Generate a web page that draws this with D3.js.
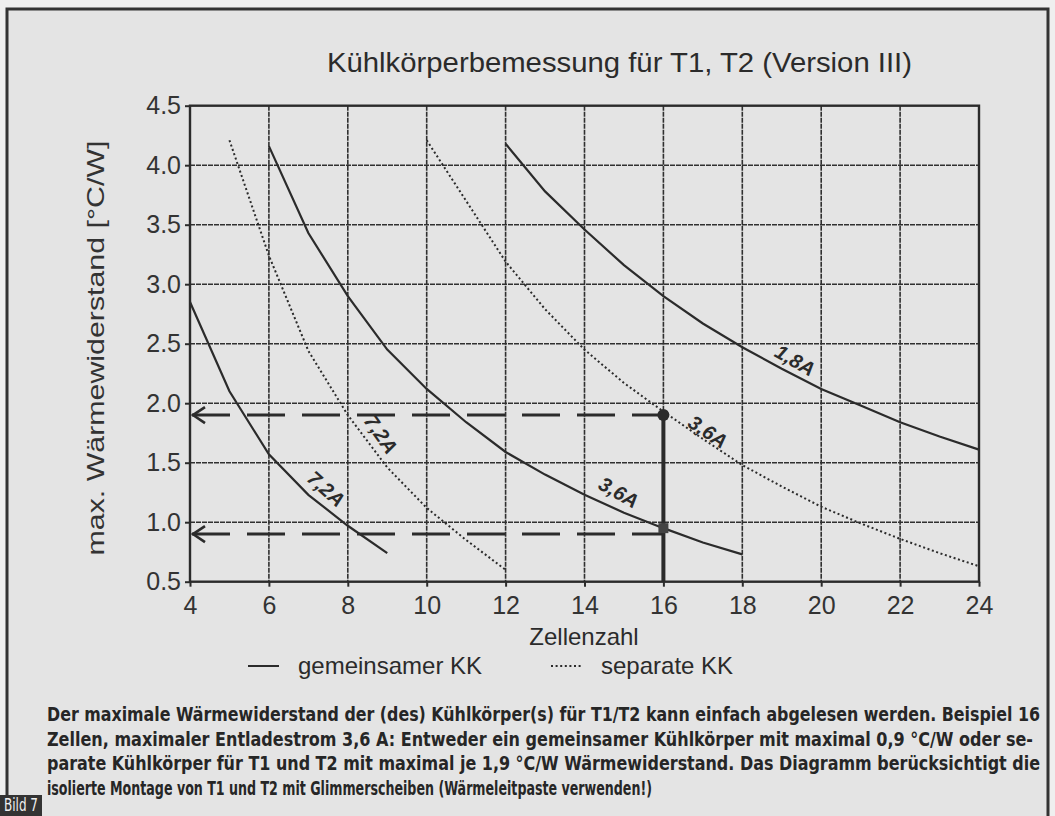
<!DOCTYPE html>
<html>
<head>
<meta charset="utf-8">
<script src="https://cdn.jsdelivr.net/npm/d3@7"></script>
<style>
  html, body { margin: 0; padding: 0; background: #ececec; }
  svg { display: block; }
</style>
</head>
<body>
<svg id="chart" width="1055" height="816"></svg>
<script>
// Zellenzahl (x) and max. Wärmewiderstand in °C/W (y) for each curve
const gemeinsam72X = [4, 5, 6, 7, 8, 9];
const gemeinsam72R = [2.85, 2.10, 1.57, 1.23, 0.97, 0.74];

const separat72X = [5, 6, 7, 8, 9, 10, 11, 12];
const separat72R = [4.21, 3.24, 2.44, 1.90, 1.46, 1.12, 0.85, 0.60];

const gemeinsam36X = [6, 7, 8, 9, 10, 11, 12, 13, 14, 15, 16, 17, 18];
const gemeinsam36R = [4.16, 3.43, 2.90, 2.45, 2.12, 1.84, 1.59, 1.40, 1.23, 1.08, 0.95, 0.83, 0.73];

const separat36X = [10, 11, 12, 13, 14, 15, 16, 17, 18, 19, 20, 21, 22, 23, 24];
const separat36R = [4.21, 3.70, 3.19, 2.79, 2.45, 2.17, 1.93, 1.70, 1.48, 1.30, 1.13, 0.99, 0.86, 0.74, 0.63];

const gemeinsam18X = [12, 13, 14, 15, 16, 17, 18, 19, 20, 21, 22, 23, 24];
const gemeinsam18R = [4.18, 3.78, 3.46, 3.16, 2.90, 2.67, 2.47, 2.29, 2.12, 1.98, 1.84, 1.72, 1.61];

// Curve labels: text, anchor point (x, R) and rotation along the curve
const curveLabels = ["7,2A", "7,2A", "3,6A", "3,6A", "1,8A"];
const curveLabelX = [7.45, 8.84, 14.87, 17.13, 19.34];
const curveLabelR = [1.28, 1.74, 1.25, 1.76, 2.36];
const curveLabelAngle = [42, 55, 30, 34, 30];

// Worked example: 16 cells at 3.6 A
const exampleCells = 16;
const exampleLevels = [1.9, 0.9];      // separate KK, gemeinsamer KK
const exampleMarkR = [1.9, 0.95];      // where the vertical meets the curves

const xTicks = [4, 6, 8, 10, 12, 14, 16, 18, 20, 22, 24];
const yTicks = [0.5, 1.0, 1.5, 2.0, 2.5, 3.0, 3.5, 4.0, 4.5];

const titleText = "Kühlkörperbemessung für T1, T2 (Version III)";
const xLabel = "Zellenzahl";
const yLabel = "max. Wärmewiderstand [°C/W]";
const legendNames = ["gemeinsamer KK", "separate KK"];
const captionLines = [
  "Der maximale Wärmewiderstand der (des) Kühlkörper(s) für T1/T2 kann einfach abgelesen werden. Beispiel 16",
  "Zellen, maximaler Entladestrom 3,6 A: Entweder ein gemeinsamer Kühlkörper mit maximal 0,9 °C/W oder se-",
  "parate Kühlkörper für T1 und T2 mit maximal je 1,9 °C/W Wärmewiderstand. Das Diagramm berücksichtigt die",
  "isolierte Montage von T1 und T2 mit Glimmerscheiben (Wärmeleitpaste verwenden!)"
];
const captionWidths = [993, 986, 993, 605];
const figureTag = "Bild 7";

const ink = "#2b2b2b";
const chartFont = "'Liberation Sans', Arial, sans-serif";
const captionFont = "'Liberation Sans Narrow', 'DejaVu Sans Condensed', 'Liberation Sans', sans-serif";

const svg = d3.select("#chart");

// page panel and its frame
svg.append("rect").attr("x", 0).attr("y", 0).attr("width", 1055).attr("height", 816).attr("fill", "#efefef");
svg.append("rect").attr("x", 7).attr("y", 9).attr("width", 1041).attr("height", 820).attr("fill", "#e4e4e4");
svg.append("path")
  .attr("d", "M7,798 L7,9 L1048,9 L1048,816")
  .attr("fill", "none").attr("stroke", "#333").attr("stroke-width", 3);

const x = d3.scaleLinear().domain([4, 24]).range([190, 979]);
const y = d3.scaleLinear().domain([0.5, 4.5]).range([581.7, 105.7]);

// grid
const grid = svg.append("g").attr("stroke", "#303030").attr("stroke-width", 1.6)
  .attr("stroke-dasharray", "5,1");
grid.selectAll("line.v").data(xTicks.slice(1, -1)).join("line")
  .attr("class", "v")
  .attr("x1", d => x(d)).attr("x2", d => x(d))
  .attr("y1", y(4.5)).attr("y2", y(0.5));
grid.selectAll("line.h").data(yTicks.slice(1, -1)).join("line")
  .attr("class", "h")
  .attr("x1", x(4)).attr("x2", x(24))
  .attr("y1", d => y(d)).attr("y2", d => y(d));

// plot frame
svg.append("rect")
  .attr("x", x(4)).attr("y", y(4.5))
  .attr("width", x(24) - x(4)).attr("height", y(0.5) - y(4.5))
  .attr("fill", "none").attr("stroke", ink).attr("stroke-width", 2.4);

// axes
const yAxis = svg.append("g").attr("transform", `translate(${x(4)},0)`)
  .call(d3.axisLeft(y).tickValues(yTicks).tickFormat(d3.format(".1f")).tickSize(5).tickPadding(4));
const xAxis = svg.append("g").attr("transform", `translate(0,${y(0.5)})`)
  .call(d3.axisBottom(x).tickValues(xTicks).tickFormat(d3.format("d")).tickSize(5).tickPadding(10));
[xAxis, yAxis].forEach(g => {
  g.select(".domain").remove();
  g.selectAll(".tick line").attr("stroke", ink).attr("stroke-width", 2);
  g.selectAll(".tick text").attr("fill", "#333").attr("font-family", chartFont).attr("font-size", 25);
});

// curves
const line = d3.line().x(d => x(d[0])).y(d => y(d[1]));
const curves = [
  { xs: gemeinsam72X, rs: gemeinsam72R, dotted: false },
  { xs: separat72X, rs: separat72R, dotted: true },
  { xs: gemeinsam36X, rs: gemeinsam36R, dotted: false },
  { xs: separat36X, rs: separat36R, dotted: true },
  { xs: gemeinsam18X, rs: gemeinsam18R, dotted: false }
];
svg.append("g").selectAll("path").data(curves).join("path")
  .attr("d", c => line(c.xs.map((v, i) => [v, c.rs[i]])))
  .attr("fill", "none").attr("stroke", ink)
  .attr("stroke-width", c => c.dotted ? 2 : 2.2)
  .attr("stroke-dasharray", c => c.dotted ? "2,2.6" : null);

// curve labels
svg.append("g").selectAll("text").data(curveLabels).join("text")
  .attr("transform", (d, i) => `translate(${x(curveLabelX[i])},${y(curveLabelR[i])}) rotate(${curveLabelAngle[i]})`)
  .attr("text-anchor", "middle").attr("dy", "0.35em")
  .attr("font-family", chartFont).attr("font-size", 20)
  .attr("font-style", "italic").attr("font-weight", "bold")
  .attr("fill", ink)
  .text(d => d);

// example read-off: dashed guides with arrows towards the y axis
const guides = svg.append("g").attr("stroke", ink).attr("fill", "none");
exampleLevels.forEach(level => {
  guides.append("line")
    .attr("x1", x(4) + 2).attr("x2", x(exampleCells))
    .attr("y1", y(level)).attr("y2", y(level))
    .attr("stroke-width", 3).attr("stroke-dasharray", "38,17");
  guides.append("path")
    .attr("d", `M${x(4) + 15},${y(level) - 8} L${x(4) + 3},${y(level)} L${x(4) + 15},${y(level) + 8}`)
    .attr("stroke-width", 2.6);
});
guides.append("line")
  .attr("x1", x(exampleCells)).attr("x2", x(exampleCells))
  .attr("y1", y(0.5)).attr("y2", y(exampleLevels[0]))
  .attr("stroke-width", 4);
svg.append("circle")
  .attr("cx", x(exampleCells)).attr("cy", y(exampleMarkR[0])).attr("r", 6)
  .attr("fill", ink);
svg.append("rect")
  .attr("x", x(exampleCells) - 5).attr("y", y(exampleMarkR[1]) - 5)
  .attr("width", 10).attr("height", 10)
  .attr("fill", "#444");

// title and axis titles
svg.append("text")
  .attr("x", 327).attr("y", 72)
  .attr("textLength", 585).attr("lengthAdjust", "spacingAndGlyphs")
  .attr("font-family", chartFont).attr("font-size", 27).attr("fill", ink)
  .text(titleText);
svg.append("text")
  .attr("x", 584).attr("y", 645).attr("text-anchor", "middle")
  .attr("font-family", chartFont).attr("font-size", 24).attr("fill", ink)
  .text(xLabel);
svg.append("text")
  .attr("transform", "translate(104,348) rotate(-90)")
  .attr("text-anchor", "middle")
  .attr("textLength", 415).attr("lengthAdjust", "spacingAndGlyphs")
  .attr("font-family", chartFont).attr("font-size", 24).attr("fill", "#333")
  .text(yLabel);

// legend
const legend = svg.append("g").attr("font-family", chartFont).attr("font-size", 24).attr("fill", ink);
legend.append("line").attr("x1", 248).attr("x2", 279).attr("y1", 666).attr("y2", 666)
  .attr("stroke", ink).attr("stroke-width", 2);
legend.append("text").attr("x", 298).attr("y", 674).text(legendNames[0]);
legend.append("line").attr("x1", 551).attr("x2", 582).attr("y1", 666).attr("y2", 666)
  .attr("stroke", ink).attr("stroke-width", 2).attr("stroke-dasharray", "2,2.6");
legend.append("text").attr("x", 601).attr("y", 674).text(legendNames[1]);

// caption: bold condensed lines, stretched a little vertically
svg.append("g").selectAll("text").data(captionLines).join("text")
  .attr("transform", (d, i) => `translate(47,${721 + i * 24.7}) scale(1,1.2)`)
  .attr("x", 0).attr("y", 0)
  .attr("textLength", (d, i) => captionWidths[i]).attr("lengthAdjust", "spacingAndGlyphs")
  .attr("font-family", captionFont).attr("font-weight", "bold").attr("font-size", 16.5)
  .attr("fill", "#262626")
  .text(d => d);

// figure tag
svg.append("rect").attr("x", 0).attr("y", 795).attr("width", 42).attr("height", 21).attr("fill", "#333");
svg.append("text")
  .attr("transform", "translate(21,810.5) scale(1,1.15)")
  .attr("text-anchor", "middle")
  .attr("textLength", 34).attr("lengthAdjust", "spacingAndGlyphs")
  .attr("font-family", captionFont).attr("font-size", 16).attr("fill", "#f0f0f0")
  .text(figureTag);
</script>
</body>
</html>
